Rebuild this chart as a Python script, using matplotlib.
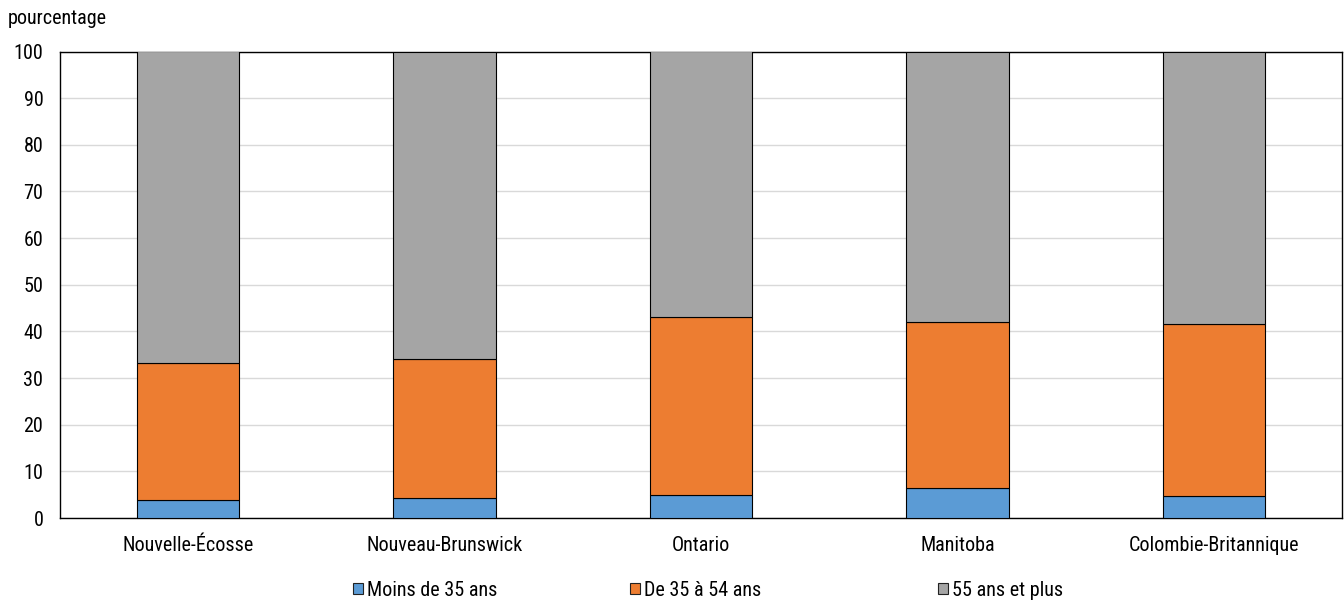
import matplotlib
matplotlib.use("Agg")
import matplotlib.pyplot as plt
import numpy as np
from matplotlib.patches import Patch

categories = ["Nouvelle-Écosse", "Nouveau-Brunswick", "Ontario", "Manitoba", "Colombie-Britannique"]
series_names = ["Moins de 35 ans", "De 35 à 54 ans", "55 ans et plus"]
moins35 = [3.9, 4.2, 5.0, 6.5, 4.8]
de35a54 = [29.3, 29.8, 38.0, 35.5, 36.8]
plus55 = [66.8, 66.0, 57.0, 58.0, 58.4]
colors = ["#5b9bd5", "#ed7d31", "#a5a5a5"]
yticks = [0, 10, 20, 30, 40, 50, 60, 70, 80, 90, 100]

plt.rcParams['font.family'] = ['Roboto Condensed', 'Liberation Sans Narrow', 'Roboto', 'DejaVu Sans']
FS = 14.5

fig = plt.figure(figsize=(13.44, 6.02), dpi=100)
ax = fig.add_axes([60/1344, 1-518/602, (1342-60)/1344, (518-51.5)/602])

x = np.arange(len(categories))
bottom = np.zeros(len(categories))
handles = []
for name, vals, c in zip(series_names, [moins35, de35a54, plus55], colors):
    ax.bar(x, vals, width=0.4, bottom=bottom, color=c, edgecolor="black", linewidth=0.8, zorder=3)
    bottom += np.array(vals)
    handles.append(Patch(facecolor=c, edgecolor="#222222", linewidth=0.8, label=name))

ax.set_xlim(-0.5, len(categories) - 0.5)
ax.set_ylim(0, 100)
ax.set_yticks(yticks)
ax.set_xticks(x)
ax.set_xticklabels(categories)
ax.tick_params(axis='both', length=0, labelsize=FS, colors="black")
ax.tick_params(axis='y', pad=12)
ax.tick_params(axis='x', pad=13)
ax.yaxis.grid(True, color="#d9d9d9", linewidth=1, zorder=0)
ax.set_axisbelow(True)
for s in ax.spines.values():
    s.set_color("black")
    s.set_linewidth(1.0)

fig.text(8/1344, 1-18/602, "pourcentage", fontsize=FS, va="center", ha="left")

legend_x = [353, 630, 938]
for h, lx in zip(handles, legend_x):
    fig.legend(handles=[h], loc="center left", bbox_to_anchor=(lx/1344, 1-590/602),
               frameon=False, fontsize=FS, handlelength=0.5, handleheight=0.5,
               handletextpad=0.2, borderpad=0, borderaxespad=0)

fig.savefig("out.png", dpi=100)
